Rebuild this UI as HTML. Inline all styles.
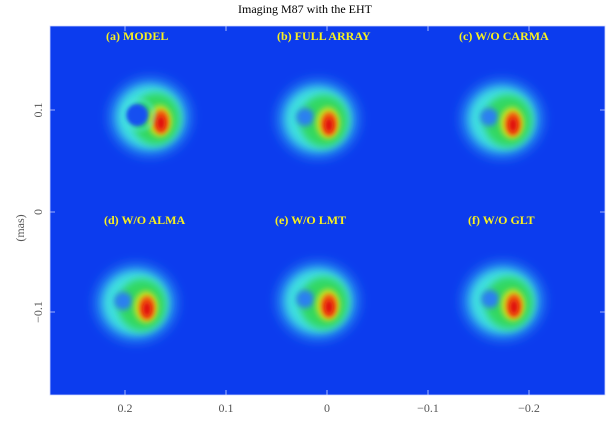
<!DOCTYPE html>
<html><head><meta charset="utf-8"><style>
body{margin:0;background:#fff;width:610px;height:424px;overflow:hidden}
svg{display:block}
</style></head><body>
<svg width="610" height="424" viewBox="0 0 610 424" xmlns="http://www.w3.org/2000/svg">
<defs>
<filter id="b6" x="-50%" y="-50%" width="200%" height="200%"><feGaussianBlur stdDeviation="6"/></filter>
<filter id="b4" x="-50%" y="-50%" width="200%" height="200%"><feGaussianBlur stdDeviation="4"/></filter>
<filter id="b3" x="-50%" y="-50%" width="200%" height="200%"><feGaussianBlur stdDeviation="3"/></filter>
<filter id="b2" x="-50%" y="-50%" width="200%" height="200%"><feGaussianBlur stdDeviation="2"/></filter>
<g id="blob">
  <ellipse cx="0" cy="0" rx="40" ry="38" fill="#2a9cf0" filter="url(#b6)"/>
  <ellipse cx="0" cy="0" rx="32" ry="31" fill="#3fe0e0" filter="url(#b4)"/>
  <ellipse cx="6" cy="2" rx="24" ry="26" fill="#30d860" filter="url(#b4)"/>
  <circle cx="-13" cy="-2" r="9" fill="#2a80f0" filter="url(#b3)"/>
  <ellipse cx="10" cy="4" rx="12" ry="16" fill="#c8e020" filter="url(#b3)"/>
  <ellipse cx="11" cy="5" rx="8" ry="12" fill="#f06010" filter="url(#b2)"/>
  <ellipse cx="11" cy="6" rx="4" ry="7" fill="#e01010" filter="url(#b2)"/>
</g>
</defs>
<text x="305" y="13" font-family="Liberation Serif,serif" font-size="12" text-anchor="middle">Imaging M87 with the EHT</text>
<rect x="50" y="26" width="555" height="369" fill="#0c3cee"/>
<g>
  <use href="#blob" x="150" y="117"/>
  <use href="#blob" x="318" y="119"/>
  <use href="#blob" x="502" y="119"/>
  <use href="#blob" x="136" y="303"/>
  <use href="#blob" x="318" y="301"/>
  <use href="#blob" x="503" y="301"/>
</g>
<circle cx="137" cy="115" r="11" fill="#1550f0" filter="url(#b2)"/>
<circle cx="139" cy="115" r="15" fill="none" stroke="#50e8e8" stroke-width="2" filter="url(#b2)" opacity="0.8"/>
<g font-family="Liberation Serif,serif" font-weight="bold" font-size="12" fill="#f8f020">
<text x="106" y="40">(a) MODEL</text>
<text x="277" y="40">(b) FULL ARRAY</text>
<text x="459" y="40">(c) W/O CARMA</text>
<text x="104" y="224">(d) W/O ALMA</text>
<text x="275" y="224">(e) W/O LMT</text>
<text x="468" y="224">(f) W/O GLT</text>
</g>
<g stroke="#cfd8ff" stroke-width="0.8">
<path d="M50,26H605V395H50Z" fill="none"/>
<path d="M125,26v5M226,26v5M327,26v5M428,26v5M529,26v5M125,395v-5M226,395v-5M327,395v-5M428,395v-5M529,395v-5"/>
<path d="M50,110h5M50,212h5M50,312h5M605,110h-5M605,212h-5M605,312h-5"/>
</g>
<g font-family="Liberation Serif,serif" font-size="12" fill="#555" text-anchor="middle">
<text x="125" y="412">0.2</text><text x="226" y="412">0.1</text><text x="327" y="412">0</text>
<text x="428" y="412">−0.1</text><text x="529" y="412">−0.2</text>
<text transform="translate(42,110) rotate(-90)">0.1</text>
<text transform="translate(42,212) rotate(-90)">0</text>
<text transform="translate(42,312) rotate(-90)">−0.1</text>
<text transform="translate(24,228) rotate(-90)">(mas)</text>
</g>
</svg>
</body></html>
